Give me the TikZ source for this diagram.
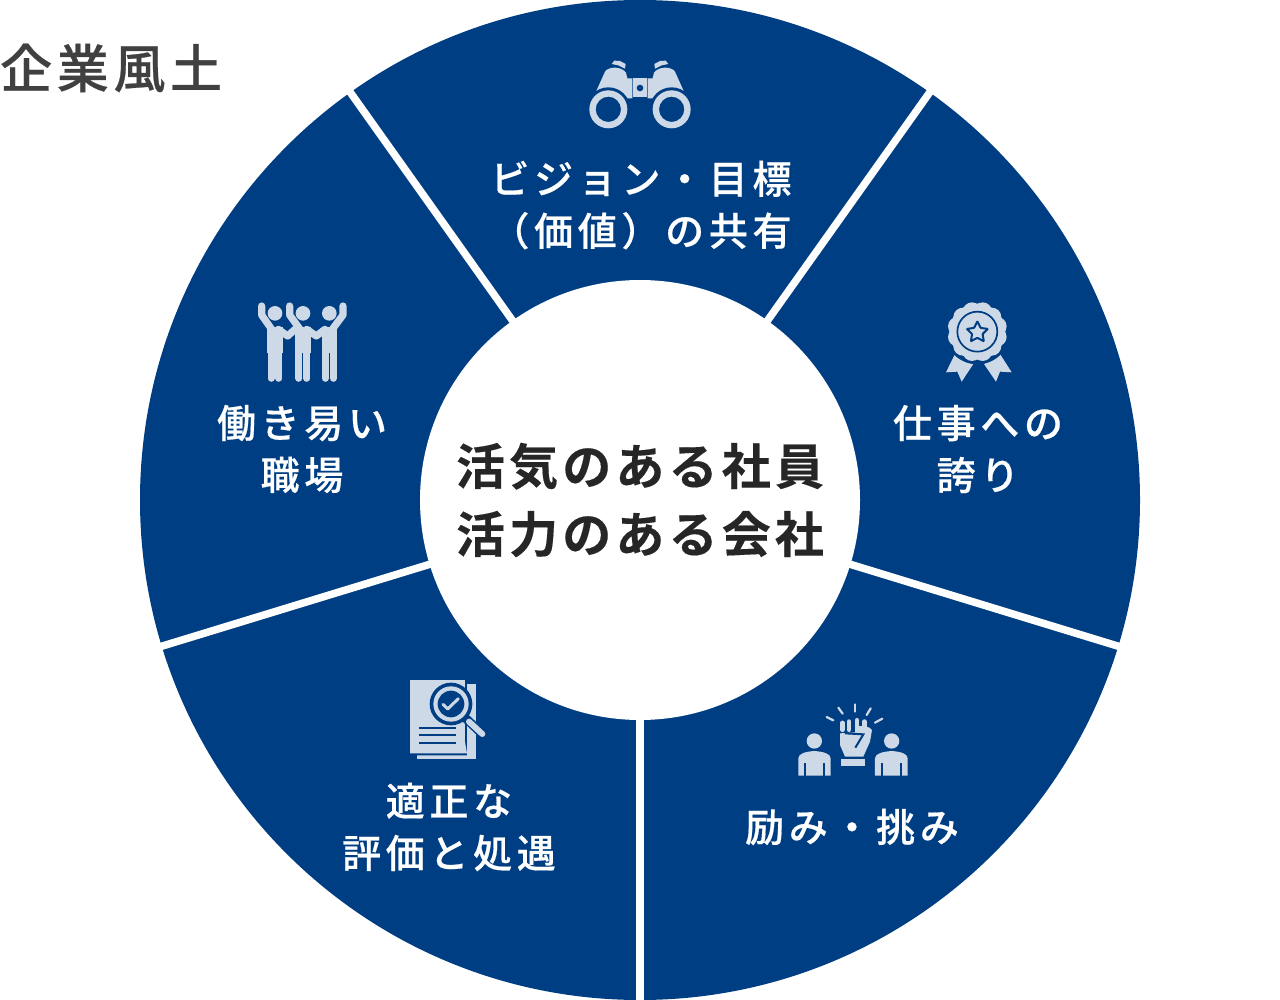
\documentclass[tikz,border=0pt]{standalone}
\usepackage{fontspec}
\usetikzlibrary{shapes.geometric}
\newfontfamily\jplabel[LetterSpace=12,FakeBold=.5]{Noto Sans CJK JP Medium}
\newfontfamily\jpcenter[LetterSpace=8.5,FakeBold=.3]{Noto Sans CJK JP Bold}
\newfontfamily\jptitle[LetterSpace=9,FakeBold=.5]{Noto Sans CJK JP Medium}
\definecolor{wheelblue}{HTML}{003E83}
\definecolor{iconpale}{HTML}{CDD9E7}
\tikzset{
  seglabel/.style={text=white,align=center,inner sep=0pt,font=\fontsize{39}{52}\selectfont\jplabel},
  divider/.style={draw=white,line width=7.5pt},
  pale/.style={fill=iconpale,draw=none},
  cutline/.style={draw=wheelblue,line width=1.7pt},
  limb/.style={draw=iconpale,line width=7.2pt,line cap=round,line join=round},
  zoomed/.style={x=.3333pt,y=-.3333pt}
}
\begin{document}
\begin{tikzpicture}[x=1pt,y=-1pt]
  \useasboundingbox (0,0) rectangle (1280,1000);
  \coordinate (hub) at (640,500);
  \fill[wheelblue] (hub) circle (500);
  \foreach \a in {90,17,163,-54.6,-125.4}
    \draw[divider] (hub) -- ++(\a:506);
  \node[circle,fill=white,minimum size=440pt,inner sep=0pt,align=center,text=black!85,
        font=\fontsize{49}{68}\selectfont\jpcenter] (core) at (640,500) {活気のある社員\\活力のある会社};

  \node[anchor=west,inner sep=0pt,text=black!75,font=\fontsize{52}{60}\selectfont\jptitle] (title) at (0,68) {企業風土};

  \node[seglabel] (vision) at (641,205) {ビジョン・目標\\（価値）の共有};
  \node[seglabel] (pride)  at (978,449) {仕事への\\誇り};
  \node[seglabel] (drive)  at (852,827) {励み・挑み};
  \node[seglabel] (merit)  at (449,827) {適正な\\評価と処遇};
  \node[seglabel] (ease)   at (302,449) {働き易い\\職場};

  % binoculars
  \begin{scope}[shift={(570,40)},zoomed]
    \foreach \m/\k in {1/0,-1/420}{
      \begin{scope}[shift={(\k,0)},xscale=\m]
        \fill[pale] (78,155) -- (105,95) .. controls (112,82) and (150,75) .. (168,98) -- (172,115) -- (187,115) -- (187,175) -- (172,175) -- (150,170) -- (78,160) -- cycle;
        \fill[pale] (125,72) -- (133,62) -- (150,63) -- (167,72) -- (165,86) -- (145,76) -- cycle;
        \fill[wheelblue] (115,208) circle (66);
        \fill[pale,even odd rule] (115,208) circle (57) (115,208) circle (38);
      \end{scope}
    }
    \fill[pale] (190,115) rectangle (230,172);
    \fill[wheelblue] (210,144) circle (10);
  \end{scope}

  % medal
  \begin{scope}[shift={(920,290)},zoomed]
    \fill[pale] (105,192) -- (160,222) -- (125,275) -- (112,245) -- (78,247) -- cycle;
    \fill[pale] (240,192) -- (192,222) -- (228,275) -- (240,245) -- (275,247) -- cycle;
    \fill[wheelblue] (172,125) circle (98);
    \fill[pale] (172,125) circle (84);
    \foreach \a in {15,45,...,345}
      \fill[pale] (172,125) ++(\a:62) circle (28);
    \draw[cutline] (172,125) circle (60);
    \node[star,star points=5,star point ratio=2,draw=wheelblue,line width=2pt,fill=none,
          minimum size=22pt,inner sep=0pt,rounded corners=.6pt] (medalstar) at (172,127) {};
  \end{scope}

  % fist and two people
  \begin{scope}[shift={(780,695)},zoomed]
    \foreach \c/\l/\r in {103/55/152,335/285/383}{
      \fill[pale] (\c,138) circle (23);
      \fill[pale] (\l,242) -- (\l,190) .. controls (\l,175) and (\c-25,170) .. (\c,168) .. controls (\c+25,170) and (\r,175) .. (\r,190) -- (\r,242) -- cycle;
      \draw[cutline] (\l+20,205) -- (\l+20,242);
      \draw[cutline] (\r-20,205) -- (\r-20,242);
    }
    \foreach \xa/\ya/\xb/\yb in {140/66/160/76,175/38/188/56,224/28/224/50,272/40/260/60,307/71/285/83}
      \draw[iconpale,line width=2.2pt,line cap=round] (\xa,\ya) -- (\xb,\yb);
    \fill[pale] (180,115) -- (180,150) -- (195,185) -- (250,185) -- (270,140) -- (276,105) .. controls (270,92) and (240,92) .. (225,95) -- (225,112) -- cycle;
    \foreach \fx/\ft in {187/84,207/80,231/76,253/80}
      \draw[iconpale,line width=4.8pt,line cap=round] (\fx,\ft) -- (\fx,104);
    \draw[wheelblue,line width=2pt] (195,115) -- (250,118) -- (226,158);
    \fill[pale] (183,193) rectangle (255,213);
  \end{scope}

  % document and magnifier
  \begin{scope}[shift={(395,670)},zoomed]
    \fill[pale] (65,42) rectangle (242,268);
    \fill[wheelblue] (210,30) -- (216,30) -- (216,256) -- (65,256) -- (65,250) -- cycle;
    \fill[pale] (45,30) -- (210,30) -- (210,215) -- (216,250) -- (45,250) -- cycle;
    \foreach \ly in {175,196,218}
      \draw[cutline] (72,\ly) -- (182,\ly);
    \draw[wheelblue,line width=9pt,line cap=round] (212,145) -- (262,192);
    \draw[iconpale,line width=6pt,line cap=round] (222,155) -- (262,192);
    \fill[wheelblue] (168,102) circle (64);
    \fill[pale] (168,102) circle (53);
    \fill[wheelblue] (168,102) circle (40);
    \draw[iconpale,line width=3pt,line cap=round,line join=round] (144,103) -- (158,117) -- (190,86);
  \end{scope}

  % three people cheering
  \begin{scope}[shift={(245,290)},zoomed]
    \foreach \c in {90,174,253}{
      \fill[pale] (\c,70) circle (22);
      \fill[pale] (\c-23,110) rectangle (\c+23,190);
      \draw[iconpale,line width=7pt,line cap=round] (\c-12,190) -- (\c-12,265);
      \draw[iconpale,line width=7pt,line cap=round] (\c+12,190) -- (\c+12,265);
    }
    \draw[limb] (50,48) -- (50,75) -- (80,118);
    \draw[limb] (134,48) -- (134,75) -- (165,118);
    \draw[limb] (294,48) -- (294,75) -- (262,118);
    \draw[limb] (100,118) -- (128,138) -- (150,118);
    \draw[limb] (185,118) -- (214,138) -- (240,118);
  \end{scope}
\end{tikzpicture}
\end{document}
